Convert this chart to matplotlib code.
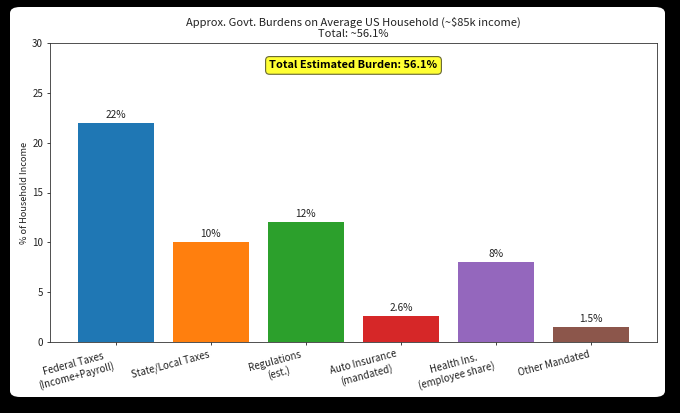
import matplotlib
matplotlib.use("Agg")
import matplotlib.pyplot as plt
from matplotlib.patches import FancyBboxPatch

plt.rcParams['font.family'] = ['Noto Sans CJK JP', 'DejaVu Sans']

categories = ["Federal Taxes\n(Income+Payroll)", "State/Local Taxes", "Regulations\n(est.)",
              "Auto Insurance\n(mandated)", "Health Ins.\n(employee share)", "Other Mandated"]
values = [22, 10, 12, 2.6, 8, 1.5]
labels = ["22%", "10%", "12%", "2.6%", "8%", "1.5%"]
colors = ["#1f77b4", "#ff7f0e", "#2ca02c", "#d62728", "#9467bd", "#8c564b"]
total = 56.1

fig = plt.figure(figsize=(6.8, 4.13), dpi=100)
fig.patch.set_facecolor("black")
card = FancyBboxPatch((10/680, 16/413), 655/680, 390/413,
                      boxstyle="round,pad=0,rounding_size=0.015",
                      transform=fig.transFigure, facecolor="white", edgecolor="none", zorder=-10)
fig.patches.append(card)

ax = fig.add_axes([50/680, (413-342)/413, 607/680, 299/413])
ax.set_zorder(1)
x = range(len(categories))
bars = ax.bar(x, values, color=colors, width=0.8)
for b, lab in zip(bars, labels):
    ax.text(b.get_x() + b.get_width()/2, b.get_height() + 0.3, lab,
            ha="center", va="bottom", fontsize=7.3, color="#222222")
ax.set_ylim(0, 30)
ax.set_xticks(list(x))
ax.set_xticklabels(categories, rotation=15, ha="right", fontsize=7,
                   multialignment="center", color="#222222")
ax.tick_params(axis="both", labelsize=7, length=2.5, width=0.6, colors="#222222", pad=2.5)
ax.set_ylabel("% of Household Income", fontsize=6.6, color="#222222", labelpad=2.5)
ax.set_title("Approx. Govt. Burdens on Average US Household (~$85k income)\nTotal: ~56.1%",
             fontsize=8, pad=4, color="#222222", linespacing=1.15)
ax.text(0.5, 0.925, f"Total Estimated Burden: {total}%", transform=ax.transAxes,
        ha="center", va="center", fontsize=7.9, fontweight="bold",
        bbox=dict(boxstyle="round,pad=0.35", facecolor="#ffff33", edgecolor="#666633", linewidth=0.8))
for s in ax.spines.values():
    s.set_color("#333333")
    s.set_linewidth(0.6)

fig.savefig("out.png", dpi=100, facecolor=fig.get_facecolor())
